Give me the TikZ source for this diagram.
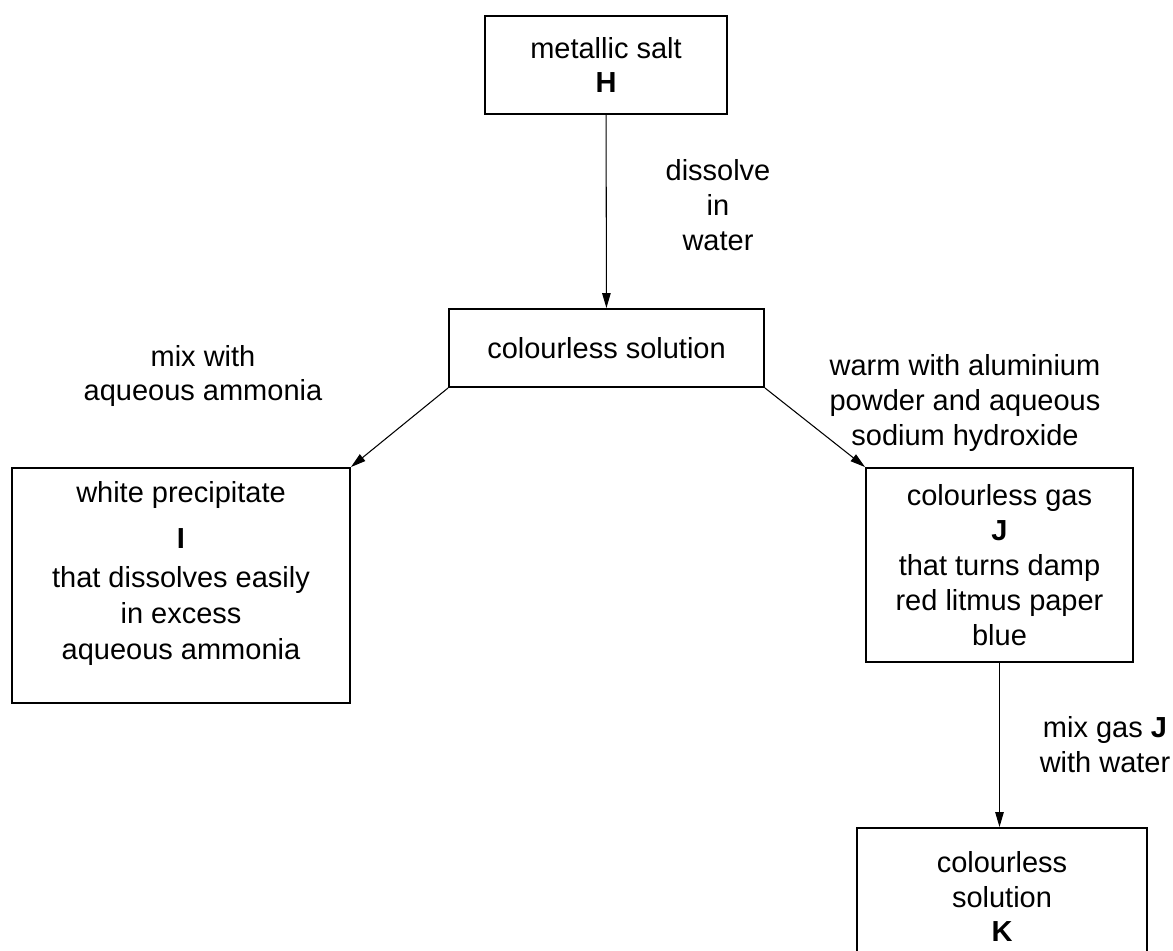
\documentclass[tikz,border=0pt]{standalone}
\usepackage{fontspec}
\setmainfont{Liberation Sans}
\usetikzlibrary{arrows.meta,positioning}

\tikzset{
  box/.style={draw, line width=1.1pt, align=center, inner sep=0pt},
  flow/.style={-{Triangle[length=0.3cm,width=0.17cm]}, line width=0.6pt},
  lbl/.style={align=center, inner sep=0pt}
}

\begin{document}
\begin{tikzpicture}[x=0.02cm,y=-0.02cm,font=\fontsize{16.5}{19.9}\selectfont]
\useasboundingbox (0,0) rectangle (1173,950);
% boxes
\node[box, minimum width=4.84cm, minimum height=1.96cm] (salt) at (606,65) {metallic salt\\\textbf{H}};
\node[box, minimum width=6.30cm, minimum height=1.56cm] (soln) at (606.5,348) {colourless solution};
\node[box, minimum width=6.76cm, minimum height=4.70cm] (ppt) at (181,585.5)
  {\parbox[c][4.7cm][t]{6.7cm}{\centering\vspace*{0.27cm}white precipitate\\[0.22cm]\textbf{I}\\[0.09cm]that dissolves easily\\[0.02cm]in excess\\[0.02cm]aqueous ammonia}};
\node[box, minimum width=5.34cm, minimum height=3.88cm] (gas) at (999.5,565)
  {colourless gas\\\textbf{J}\\that turns damp\\red litmus paper\\blue};
\node[box, minimum width=5.80cm, minimum height=2.74cm] (ksol) at (1002,896.5)
  {colourless\\solution\\\textbf{K}};
% arrows
\draw[flow] (salt) -- (soln);
\draw[flow] (soln.south west) -- (ppt.north east);
\draw[flow] (soln.south east) -- (gas.north west);
\draw[flow] (gas.south) -- (gas.south |- ksol.north);
% labels
\node[lbl] (dissolve) at (718,205) {dissolve\\in\\water};
\node[lbl] (ammonia) at (203,376) {mix with\\aqueous ammonia};
\node[lbl] (warm) at (965,403) {warm with aluminium\\powder and aqueous\\sodium hydroxide};
\node[lbl] (mixgas) at (1105,745) {mix gas \textbf{J}\\with water};
\end{tikzpicture}
\end{document}
